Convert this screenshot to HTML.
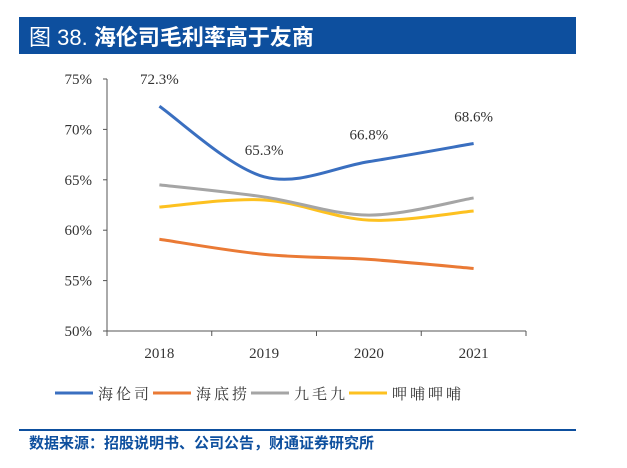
<!DOCTYPE html>
<html><head><meta charset="utf-8"><style>
body{margin:0;width:627px;height:463px;background:#fff;overflow:hidden;font-family:"Liberation Serif","Noto Serif CJK SC",serif}
</style></head><body>
<svg width="627" height="463" xmlns="http://www.w3.org/2000/svg">
<rect x="19" y="17" width="557" height="37" fill="#0d4f9e"/>
<text x="29" y="45" fill="#fff" font-size="22" font-family="Liberation Sans,Noto Sans CJK SC,sans-serif">图 38. <tspan font-weight="bold">海伦司毛利率高于友商</tspan></text>
<g id="axes"></g>
<g id="series"></g>
<g id="legend"></g>
<line x1="19" y1="430" x2="576" y2="430" stroke="#0d4f9e" stroke-width="2"/>
<text x="29" y="448" fill="#0d4f9e" font-size="15" font-weight="bold" font-family="Liberation Sans,Noto Sans CJK SC,sans-serif">数据来源：招股说明书、公司公告，财通证券研究所</text>
</svg>
<script>
const categories=["2018","2019","2020","2021"];
const seriesNames=["海伦司","海底捞","九毛九","呷哺呷哺"];
const seriesColors=["#3a6fc0","#ea7a35","#a5a5a5","#fdc120"];
const hailunsi=[72.3,65.3,66.8,68.6];
const haidilao=[59.1,57.6,57.1,56.2];
const jiumaojiu=[64.5,63.3,61.5,63.2];
const xiabu=[62.3,63.0,61.0,61.9];
const yTicks=[50,55,60,65,70,75];
const allSeries=[hailunsi,haidilao,jiumaojiu,xiabu];
const NS="http://www.w3.org/2000/svg";
const x0=107,x1=526,y0=331,y1=79;
const xs=i=>x0+(i+0.5)*(x1-x0)/categories.length;
const ys=v=>y0-(v-50)/25*(y0-y1);
function mk(t,a,p){const e=document.createElementNS(NS,t);for(const k in a)e.setAttribute(k,a[k]);p.appendChild(e);return e;}
const ax=document.getElementById('axes');
const yl=mk('line',{x1:x0,y1:y1,x2:x0,y2:y0,stroke:'#555'},ax);


const xl=mk('line',{x1:x0,y1:y0,x2:x1,y2:y0,stroke:'#555'},ax);


yTicks.forEach(v=>{const y=ys(v);
mk('line',{x1:x0-4,y1:y,x2:x0,y2:y,stroke:'#555'},ax);
const t=mk('text',{x:92,y:y+5,'text-anchor':'end','font-size':15,fill:'#333'},ax);t.textContent=v+'%';

});
for(let i=0;i<=categories.length;i++){const x=x0+i*(x1-x0)/categories.length;mk('line',{x1:x,y1:y0,x2:x,y2:y0+5,stroke:'#555'},ax);}
categories.forEach((c,i)=>{const t=mk('text',{x:xs(i),y:358,'text-anchor':'middle','font-size':15,fill:'#333'},ax);t.textContent=c;

});
const sg=document.getElementById('series');
function smooth(pts){let d='M'+pts[0][0]+','+pts[0][1];for(let i=0;i<pts.length-1;i++){const p0=pts[i-1]||pts[i],p1=pts[i],p2=pts[i+1],p3=pts[i+2]||p2;const k=1/6;
d+=' C'+(p1[0]+(p2[0]-p0[0])*k)+','+(p1[1]+(p2[1]-p0[1])*k)+' '+(p2[0]-(p3[0]-p1[0])*k)+','+(p2[1]-(p3[1]-p1[1])*k)+' '+p2[0]+','+p2[1];}return d;}
allSeries.slice().reverse().forEach((s,ri)=>{const si=allSeries.length-1-ri;
const p=mk('path',{d:smooth(s.map((v,i)=>[xs(i),ys(v)])),fill:'none',stroke:seriesColors[si],'stroke-width':3},sg);

});
hailunsi.forEach((v,i)=>{const t=mk('text',{x:xs(i),y:ys(v)-22,'text-anchor':'middle','font-size':15,fill:'#333'},sg);t.textContent=v.toFixed(1)+'%';

});
const lg=document.getElementById('legend');
const lx=[55,153,251,349];
seriesNames.forEach((n,i)=>{const g=mk('g',{},lg);


mk('line',{x1:lx[i],y1:393,x2:lx[i]+38,y2:393,stroke:seriesColors[i],'stroke-width':3},g);
const t=mk('text',{x:lx[i]+43,y:399,'font-size':15,fill:'#333','letter-spacing':3,'font-family':'Noto Serif CJK SC,serif'},g);t.textContent=n;});
</script>
</body></html>
